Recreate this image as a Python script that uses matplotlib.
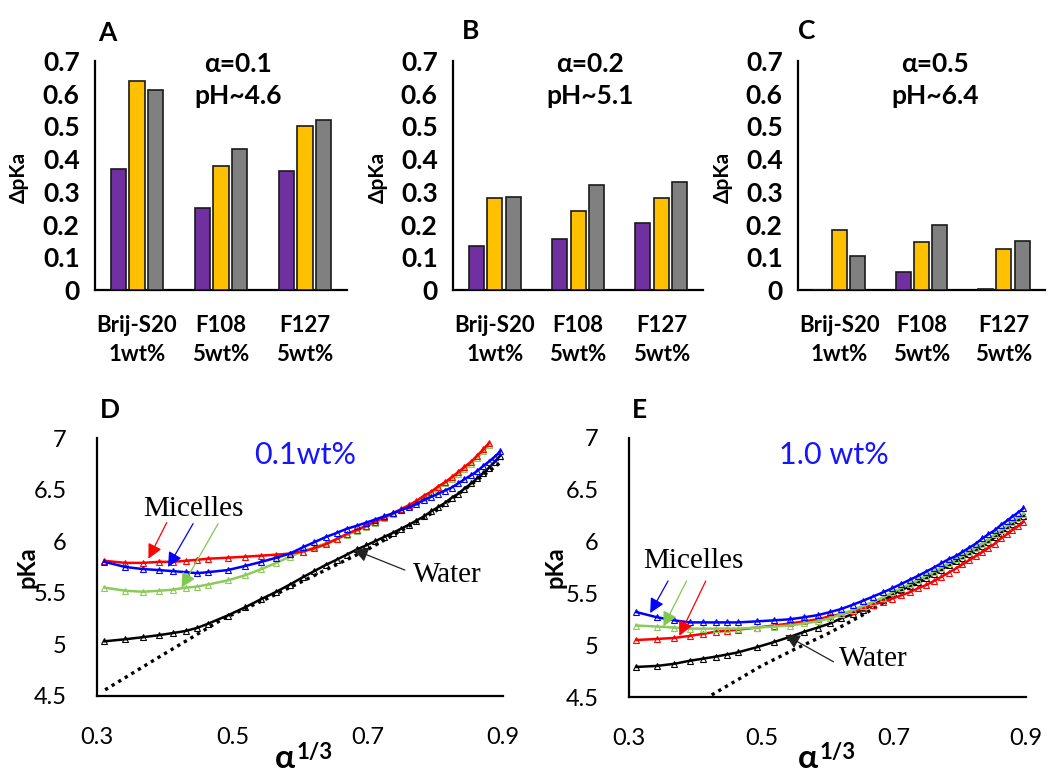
import matplotlib
matplotlib.use("Agg")
import matplotlib.pyplot as plt
import numpy as np

# ---------------- data: bar panels ----------------
categories = ["Brij-S20\n1wt%", "F108\n5wt%", "F127\n5wt%"]
A_purple = [0.37, 0.25, 0.365]
A_yellow = [0.64, 0.38, 0.50]
A_gray = [0.61, 0.43, 0.52]
B_purple = [0.135, 0.156, 0.205]
B_yellow = [0.28, 0.24, 0.28]
B_gray = [0.285, 0.32, 0.33]
C_purple = [0.0, 0.055, 0.003]
C_yellow = [0.183, 0.147, 0.125]
C_gray = [0.104, 0.20, 0.15]
bar_yticks = [0, 0.1, 0.2, 0.3, 0.4, 0.5, 0.6, 0.7]
bar_ytick_labels = ["0", "0.1", "0.2", "0.3", "0.4", "0.5", "0.6", "0.7"]

# ---------------- data: titration curves ----------------
x_cube = [0.311, 0.342, 0.368, 0.392, 0.412, 0.431, 0.448, 0.464, 0.493, 0.519,
          0.543, 0.565, 0.585, 0.604, 0.621, 0.638, 0.654, 0.669, 0.684, 0.698,
          0.711, 0.724, 0.737, 0.749, 0.761, 0.772, 0.783, 0.794, 0.804, 0.814,
          0.824, 0.834, 0.843, 0.853, 0.862, 0.871, 0.879, 0.888, 0.896]

D_red = [5.81, 5.79, 5.79, 5.80, 5.80, 5.81, 5.82, 5.83, 5.84, 5.85,
         5.86, 5.87, 5.88, 5.90, 5.93, 5.97, 6.02, 6.07, 6.11, 6.15,
         6.19, 6.23, 6.27, 6.31, 6.35, 6.39, 6.44, 6.48, 6.53, 6.57,
         6.62, 6.67, 6.72, 6.77, 6.83, 6.89, 6.95]
D_blue = [5.80, 5.75, 5.73, 5.72, 5.71, 5.70, 5.69, 5.70, 5.72, 5.76,
          5.80, 5.84, 5.88, 5.94, 5.99, 6.04, 6.08, 6.12, 6.15, 6.18,
          6.21, 6.24, 6.27, 6.30, 6.33, 6.36, 6.40, 6.43, 6.46, 6.49,
          6.52, 6.56, 6.60, 6.64, 6.68, 6.73, 6.77, 6.82, 6.87]
D_green = [5.55, 5.52, 5.51, 5.52, 5.53, 5.55, 5.56, 5.58, 5.62, 5.67,
           5.73, 5.79, 5.85, 5.90, 5.94, 5.98, 6.02, 6.06, 6.10, 6.14,
           6.18, 6.22, 6.26, 6.30, 6.34, 6.38, 6.42, 6.47, 6.51, 6.56,
           6.60, 6.65, 6.70, 6.75, 6.81, 6.87, 6.93]
D_black = [5.03, 5.05, 5.07, 5.09, 5.11, 5.13, 5.16, 5.20, 5.28, 5.36,
           5.44, 5.51, 5.58, 5.65, 5.71, 5.77, 5.82, 5.87, 5.92, 5.96,
           6.00, 6.04, 6.08, 6.12, 6.16, 6.20, 6.24, 6.29, 6.33, 6.37,
           6.42, 6.46, 6.51, 6.56, 6.61, 6.66, 6.71, 6.77, 6.83]
D_dot_x = [0.312, 0.40, 0.487, 0.55, 0.60, 0.70, 0.80, 0.90]
D_dot_y = [4.56, 4.91, 5.25, 5.44, 5.60, 5.92, 6.29, 6.78]

E_red = [5.05, 5.06, 5.07, 5.09, 5.11, 5.13, 5.14, 5.15, 5.17, 5.19,
         5.21, 5.23, 5.25, 5.28, 5.30, 5.33, 5.36, 5.39, 5.42, 5.45,
         5.48, 5.51, 5.55, 5.58, 5.62, 5.66, 5.70, 5.74, 5.78, 5.82,
         5.86, 5.90, 5.94, 5.98, 6.03, 6.07, 6.11, 6.15, 6.19]
E_blue = [5.32, 5.27, 5.24, 5.22, 5.22, 5.22, 5.22, 5.22, 5.23, 5.24,
          5.25, 5.27, 5.29, 5.32, 5.35, 5.39, 5.43, 5.47, 5.51, 5.55,
          5.59, 5.63, 5.67, 5.71, 5.75, 5.79, 5.83, 5.86, 5.90, 5.94,
          5.98, 6.03, 6.07, 6.11, 6.16, 6.20, 6.24, 6.28, 6.32]
E_green = [5.19, 5.18, 5.17, 5.16, 5.16, 5.16, 5.16, 5.16, 5.17, 5.18,
           5.19, 5.21, 5.23, 5.26, 5.30, 5.34, 5.38, 5.42, 5.46, 5.51,
           5.55, 5.59, 5.63, 5.67, 5.71, 5.75, 5.79, 5.83, 5.86, 5.90,
           5.94, 5.98, 6.02, 6.07, 6.11, 6.15, 6.19, 6.23, 6.27]
E_black = [4.79, 4.80, 4.82, 4.85, 4.87, 4.89, 4.91, 4.93, 4.98, 5.03,
           5.08, 5.13, 5.17, 5.21, 5.26, 5.30, 5.34, 5.39, 5.44, 5.49,
           5.53, 5.57, 5.61, 5.65, 5.69, 5.73, 5.77, 5.81, 5.84, 5.88,
           5.92, 5.96, 6.00, 6.04, 6.08, 6.13, 6.17, 6.21, 6.25]
E_dot_x = [0.425, 0.50, 0.55, 0.60, 0.65, 0.70, 0.80, 0.90]
E_dot_y = [4.52, 4.80, 4.96, 5.11, 5.28, 5.47, 5.83, 6.26]

curve_xticks = [0.3, 0.5, 0.7, 0.9]
curve_xtick_labels = ["0.3", "0.5", "0.7", "0.9"]
curve_yticks = [4.5, 5, 5.5, 6, 6.5, 7]
curve_ytick_labels = ["4.5", "5", "5.5", "6", "6.5", "7"]

# ---------------- styling ----------------
W, H = 1048, 772
PURPLE, YELLOW, GRAY = "#7030A0", "#FFC000", "#808080"
RED, BLUE, GREEN, BLACK = "#FF0000", "#0000FF", "#8CCB5A", "#000000"
SANS = ["Lato", "DejaVu Sans"]
SERIF = ["Liberation Serif", "DejaVu Serif"]

fig = plt.figure(figsize=(W / 100, H / 100), dpi=100)


def fx(px):
    return px / W


def fy(py):
    return 1 - py / H


def ax_rect(l, t, r, b):
    return [fx(l), fy(b), fx(r) - fx(l), fy(t) - fy(b)]


def style_axes(ax):
    for s in ("top", "right"):
        ax.spines[s].set_visible(False)
    for s in ("left", "bottom"):
        ax.spines[s].set_linewidth(1.6)
        ax.spines[s].set_color("black")


def bar_panel(rect, purple, yellow, gray, letter, letter_px, cond1, cond2, cond_px, ylab_px):
    ax = fig.add_axes(ax_rect(*rect))
    x = np.arange(len(categories))
    w, off = 0.18, 0.222
    for vals, c, o in ((purple, PURPLE, -off), (yellow, YELLOW, 0), (gray, GRAY, off)):
        ax.bar(x + o, vals, width=w, color=c, edgecolor="#1a1a1a", linewidth=1.2, zorder=3)
    ax.set_xlim(-0.5, 2.5)
    ax.set_ylim(0, 0.7)
    ax.set_yticks(bar_yticks)
    ax.set_yticklabels(bar_ytick_labels, fontsize=19, fontweight="bold", family=SANS)
    ax.set_xticks(x)
    ax.set_xticklabels(categories, fontsize=16, fontweight="bold", family=SANS,
                       linespacing=1.45)
    ax.tick_params(axis="y", length=0, pad=11)
    ax.tick_params(axis="x", length=0, pad=18)
    style_axes(ax)
    fig.text(fx(letter_px[0]), fy(letter_px[1]), letter, fontsize=19, fontweight="bold",
             family=SANS, ha="left", va="top")
    fig.text(fx(cond_px), fy(64), cond1, fontsize=19, fontweight="bold", family=SANS,
             ha="center", va="center")
    fig.text(fx(cond_px), fy(96), cond2, fontsize=19, fontweight="bold", family=SANS,
             ha="center", va="center")
    fig.text(fx(ylab_px), fy(177), "ΔpKa", fontsize=15, fontweight="bold", family=SANS,
             rotation=90, ha="center", va="center")
    return ax


bar_panel((95, 61, 347, 290), A_purple, A_yellow, A_gray, "A", (98, 21), "α=0.1", "pH~4.6", 238, 19)
bar_panel((453, 61, 703, 290), B_purple, B_yellow, B_gray, "B", (462, 19), "α=0.2", "pH~5.1", 590, 378)
bar_panel((798, 61, 1045, 290), C_purple, C_yellow, C_gray, "C", (798, 19), "α=0.5", "pH~6.4", 935, 723)


def curve_panel(rect, series, dot_x, dot_y, letter, letter_px, conc, arrows, water, micelles_xy,
                water_xy, ylab_px, xlab_px):
    ax = fig.add_axes(ax_rect(*rect))
    for ys, c in series:
        xs = x_cube[:len(ys)]
        ax.plot(xs, ys, color=c, lw=1.8, marker="^", ms=5, mfc="none", mec=c, mew=0.8,
                zorder=3)
    ax.plot(dot_x, dot_y, color="black", lw=2.4, ls=(0, (1, 1.3)), zorder=2)
    ax.set_xlim(0.3, 0.9)
    ax.set_ylim(4.5, 7.0)
    ax.set_xticks(curve_xticks)
    ax.set_xticklabels(curve_xtick_labels, fontsize=17, family=SANS)
    ax.set_yticks(curve_yticks)
    ax.set_yticklabels(curve_ytick_labels, fontsize=17, family=SANS)
    ax.tick_params(axis="x", length=0, pad=22)
    ax.tick_params(axis="y", length=0, pad=22)
    style_axes(ax)
    ax.text(conc[0], conc[1], conc[2], color="#1515FF", fontsize=22, family=SANS,
            ha="center", va="center")
    ax.text(micelles_xy[0], micelles_xy[1], "Micelles", fontsize=21, family=SERIF,
            ha="center", va="center")
    ax.text(water_xy[0], water_xy[1], "Water", fontsize=21, family=SERIF,
            ha="center", va="center")
    for (tx, ty, hx, hy, c) in arrows:
        ax.annotate("", xy=(hx, hy), xytext=(tx, ty),
                    arrowprops=dict(arrowstyle="-|>", color=c, lw=0.9,
                                    mutation_scale=22, shrinkA=0, shrinkB=0), zorder=5)
    tx, ty, hx, hy = water
    ax.annotate("", xy=(hx, hy), xytext=(tx, ty),
                arrowprops=dict(arrowstyle="-|>", color="#222222", lw=0.9,
                                mutation_scale=22, shrinkA=0, shrinkB=0), zorder=5)
    fig.text(fx(letter_px[0]), fy(letter_px[1]), letter, fontsize=19, fontweight="bold",
             family=SANS, ha="left", va="top")
    fig.text(fx(ylab_px), fy(567), "pKa", fontsize=17, fontweight="bold", family=SANS,
             rotation=90, ha="center", va="center")
    fig.text(fx(xlab_px - 1), fy(768), "α", fontsize=24, fontweight="bold",
             family=SANS, ha="right", va="baseline")
    fig.text(fx(xlab_px + 1), fy(752), "1/3", fontsize=16, fontweight="bold",
             family=SANS, ha="left", va="center")
    return ax


curve_panel((97, 438, 503, 696),
            [(D_black, BLACK), (D_green, GREEN), (D_red, RED), (D_blue, BLUE)],
            D_dot_x, D_dot_y, "D", (100, 398), (0.607, 6.84, "0.1wt%"),
            [(0.403, 6.18, 0.376, 5.83, RED), (0.442, 6.17, 0.405, 5.75, BLUE),
             (0.479, 6.17, 0.425, 5.55, "#7FC94F")],
            (0.755, 5.72, 0.679, 5.92), (0.442, 6.31), (0.817, 5.67), 27, 296)

curve_panel((629, 438, 1026, 697),
            [(E_black, BLACK), (E_red, RED), (E_green, GREEN), (E_blue, BLUE)],
            E_dot_x, E_dot_y, "E", (632, 398), (0.609, 6.84, "1.0 wt%"),
            [(0.359, 5.62, 0.332, 5.31, BLUE), (0.387, 5.62, 0.352, 5.18, "#7FC94F"),
             (0.416, 5.62, 0.376, 5.09, RED)],
            (0.609, 4.84, 0.536, 5.10), (0.397, 5.81), (0.669, 4.87), 555, 819)

fig.savefig("out.png", dpi=100)
